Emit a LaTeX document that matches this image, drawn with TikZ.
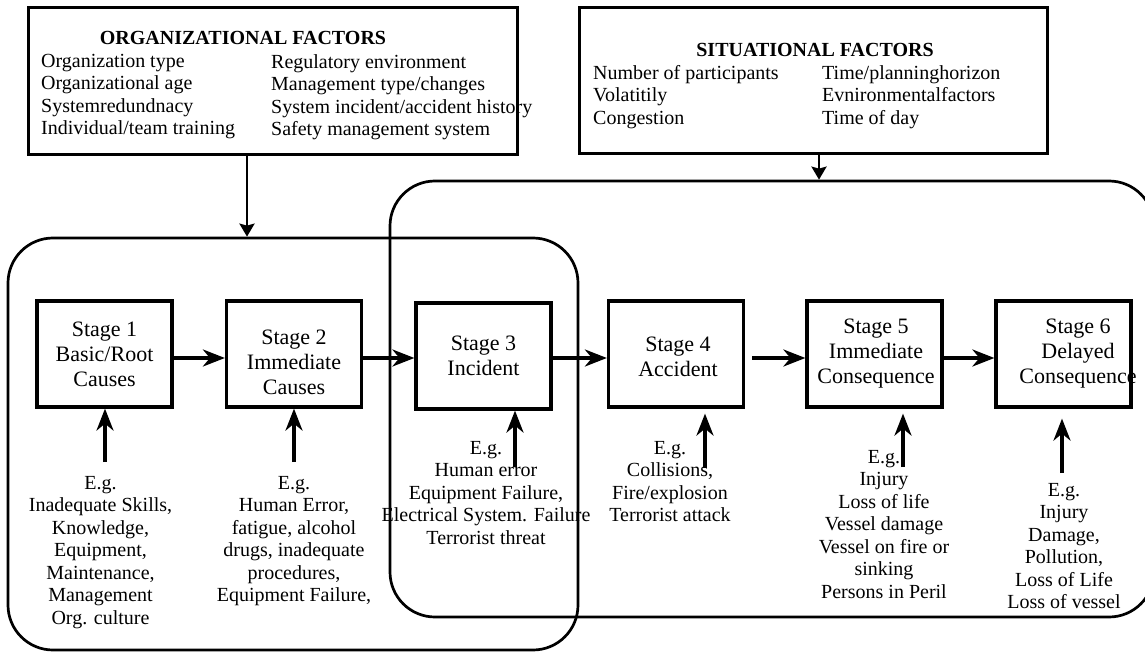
\documentclass[tikz,border=0pt]{standalone}
\usepackage{fontspec}
\setmainfont{Liberation Serif}
\usepackage{tikz}
\usetikzlibrary{arrows.meta}

\tikzset{
  factorbox/.style={draw, line width=3pt, inner sep=0pt},
  stagebox/.style={draw, line width=3.2pt, minimum width=135pt, minimum height=106pt, inner sep=0pt},
  stagetext/.style={align=center, inner sep=0pt, font=\fontsize{22}{25}\selectfont},
  listtext/.style={align=left, inner sep=0pt, anchor=north west, font=\fontsize{20}{22.5}\selectfont},
  titletext/.style={anchor=base, inner sep=0pt, font=\fontsize{20}{22.5}\selectfont\bfseries},
  egtext/.style={align=center, inner sep=0pt, anchor=north, font=\fontsize{20}{22.5}\selectfont},
  phase/.style={draw, line width=2.7pt, rounded corners=45pt, inner sep=0pt},
  flow/.style={line width=3.4pt, -{Stealth[length=22pt, width=17pt, inset=7pt]}},
  feed/.style={line width=2.7pt, -{Stealth[length=13pt, width=15pt, inset=2pt]}},
}

\begin{document}
\begin{tikzpicture}[x=1pt, y=-1pt]


\useasboundingbox (0,0) rectangle (1145,652);

% the two phases
\node[phase, minimum width=570pt, minimum height=412pt] (causes) at (293,444) {};
\node[phase, minimum width=764pt, minimum height=436pt] (effects) at (772,399) {};

% factor boxes
\node[factorbox, minimum width=489pt, minimum height=147pt] (org) at (272.5,81.5) {};
\node[titletext] (orgtitle) at (243,44.6) {ORGANIZATIONAL FACTORS};
\node[listtext] (orgleft) at (41,54) {Organization type\\Organizational age\\Systemredundnacy\\Individual/team training};
\node[listtext] (orgright) at (271,54) {Regulatory environment\\Management type/changes\\System incident/accident history\\Safety management system};

\node[factorbox, minimum width=468pt, minimum height=146pt] (sit) at (813,81) {};
\node[titletext] (sittitle) at (815,56.6) {SITUATIONAL FACTORS};
\node[listtext] (sitleft) at (593,65) {Number of participants\\Volatitily\\Congestion};
\node[listtext] (sitright) at (822,65) {Time/planninghorizon\\Evnironmentalfactors\\Time of day};

\coordinate (orgx) at (247,0);
\coordinate (sitx) at (819,0);
\draw[feed] (org.south -| orgx) -- (causes.north -| orgx);
\draw[feed] (sit.south -| sitx) -- (effects.north -| sitx);

% stages
\node[stagebox] (s1) at (104.5,354) {};
\node[stagebox] (s2) at (294,354) {};
\node[stagebox] (s3) at (483.5,356) {};
\node[stagebox] (s4) at (676,354) {};
\node[stagebox] (s5) at (874.5,354) {};
\node[stagebox] (s6) at (1063.5,354) {};

\node[stagetext] (s1t) at (104.5,354) {Stage 1\\Basic/Root\\Causes};
\node[stagetext] (s2t) at (294,362) {Stage 2\\Immediate\\Causes};
\node[stagetext] (s3t) at (483.5,356) {Stage 3\\Incident};
\node[stagetext] (s4t) at (678,357) {Stage 4\\Accident};
\node[stagetext] (s5t) at (876,354) {Stage 5\\Immediate\\Consequence};
\node[stagetext] (s6t) at (1078,354) {Stage 6\\Delayed\\Consequence};

\coordinate (mid) at (0,358);
\draw[flow] (s1.east |- mid) -- (s2.west |- mid);
\draw[flow] (s2.east |- mid) -- (s3.west |- mid);
\draw[flow] (s3.east |- mid) -- (s4.west |- mid);
\draw[flow, shorten <=7pt] (s4.east |- mid) -- (s5.west |- mid);
\draw[flow] (s5.east |- mid) -- (s6.west |- mid);

% examples
\node[egtext] (eg1) at (100.5,476) {E.g.\\Inadequate Skills,\\Knowledge,\\Equipment,\\Maintenance,\\Management\\Org. culture};
\node[egtext] (eg2) at (294,476) {E.g.\\Human Error,\\fatigue, alcohol\\drugs, inadequate\\procedures,\\Equipment Failure,};
\node[egtext] (eg3) at (486,441) {E.g.\\Human error\\Equipment Failure,\\Electrical System. Failure\\Terrorist threat};
\node[egtext] (eg4) at (670,441) {E.g.\\Collisions,\\Fire/explosion\\Terrorist attack};
\node[egtext] (eg5) at (884,450) {E.g.\\Injury\\Loss of life\\Vessel damage\\Vessel on fire or\\sinking\\Persons in Peril};
\node[egtext] (eg6) at (1064,483) {E.g.\\Injury\\Damage,\\Pollution,\\Loss of Life\\Loss of vessel};

\coordinate (u1) at (105,462);
\coordinate (u2) at (294,462);
\coordinate (u3) at (515,467);
\coordinate (u4) at (705,468);
\coordinate (u5) at (903,467);
\coordinate (u6) at (1062,473);
\draw[flow] (u1) -- (u1 |- s1.south);
\draw[flow] (u2) -- (u2 |- s2.south);
\draw[flow] (u3) -- (u3 |- s3.south);
\draw[flow, shorten >=5pt] (u4) -- (u4 |- s4.south);
\draw[flow, shorten >=5pt] (u5) -- (u5 |- s5.south);
\draw[flow, shorten >=10pt] (u6) -- (u6 |- s6.south);

\end{tikzpicture}
\end{document}
